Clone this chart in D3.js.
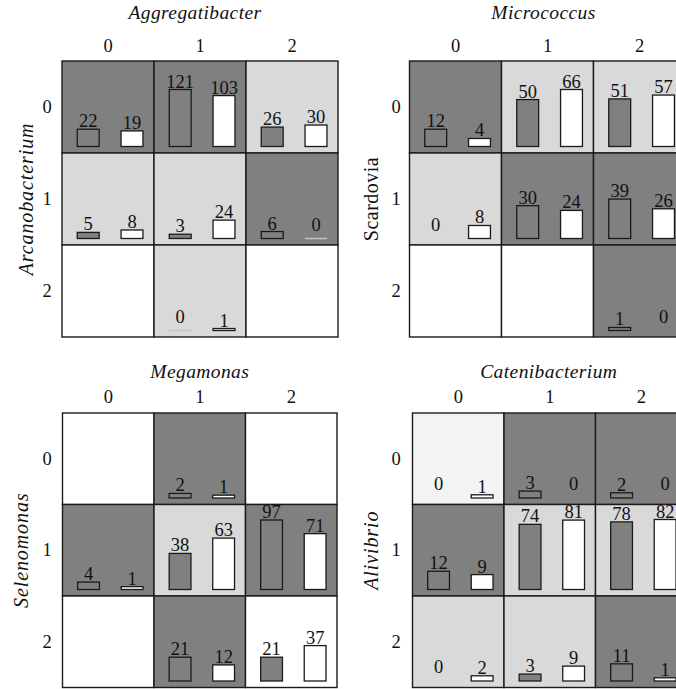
<!DOCTYPE html>
<html>
<head>
<meta charset="utf-8">
<script src="https://cdn.jsdelivr.net/npm/d3@7"></script>
<style>
  html, body { margin: 0; padding: 0; background: #fff; }
  svg { display: block; }
  text { font-family: "Liberation Serif", "DejaVu Serif", serif; fill: #111; }
</style>
</head>
<body>
<svg id="chart" width="676" height="689"></svg>
<script>
// Genus pairs: column genus (top) and row genus (left) for each panel
const colTitles = ["Aggregatibacter", "Micrococcus", "Megamonas", "Catenibacterium"];
const rowTitles = ["Arcanobacterium", "Scardovia", "Selenomonas", "Alivibrio"];
const rowTitleItalic = [true, false, true, true];

// Abundance levels shown along each axis
const levels = ["0", "1", "2"];
const series = ["grey", "white"];

// Counts per cell [row][column]; null = empty cell
const greyCounts = [
  [[22, 121, 26], [5, 3, 6], [null, 0, null]],
  [[12, 50, 51], [0, 30, 39], [null, null, 1]],
  [[null, 2, null], [4, 38, 97], [null, 21, 21]],
  [[0, 3, 2], [12, 74, 78], [0, 3, 11]]
];
const whiteCounts = [
  [[19, 103, 30], [8, 24, 0], [null, 1, null]],
  [[4, 66, 57], [8, 24, 26], [null, null, 0]],
  [[null, 1, null], [1, 63, 71], [null, 12, 37]],
  [[1, 0, 0], [9, 81, 82], [2, 9, 1]]
];
// Cell shading class [row][column]: 0 white, 1 faint, 2 light, 3 dark
const cellShade = [
  [[3, 3, 2], [2, 2, 3], [0, 2, 0]],
  [[3, 2, 2], [2, 3, 3], [0, 0, 3]],
  [[0, 3, 0], [3, 2, 3], [0, 3, 0]],
  [[1, 3, 3], [3, 2, 2], [2, 2, 3]]
];
// Whether a zero count is marked with a faint baseline stroke
const zeroStroke = [true, false, false, false];

// ---- layout ----
const shadeFill = ["#ffffff", "#f2f3f3", "#d9d9d9", "#808080"];
const barFill = { grey: "#808080", white: "#ffffff" };
const layout = [
  { x: 62,    y: 61,  cell: 92,   titleDx: -5, titleY: 19,  tickY: 52,  rowLabelX: 47,  axisTitleX: 26 },
  { x: 409.5, y: 61,  cell: 92,   titleDx: -4, titleY: 19,  tickY: 52,  rowLabelX: 396, axisTitleX: 371 },
  { x: 62.5,  y: 413, cell: 91.5, titleDx: 0,  titleY: 378, tickY: 403, rowLabelX: 47,  axisTitleX: 21 },
  { x: 412.5, y: 413, cell: 91.5, titleDx: -1, titleY: 378, tickY: 403, rowLabelX: 396, axisTitleX: 371 }
];
const maxBarH = [57, 57, 69.5, 70];
const baseInset = 6.5;

const svg = d3.select("#chart");

layout.forEach((L, p) => {
  const g = svg.append("g");
  const size = L.cell * 3;
  const xCol = d3.scaleBand().domain(levels).range([L.x, L.x + size]);
  const yRow = d3.scaleBand().domain(levels).range([L.y, L.y + size]);
  const xSeries = d3.scaleBand().domain(series).range([0, xCol.bandwidth()])
    .paddingInner(0.5).paddingOuter(0.3).align(0.58);

  const allVals = greyCounts[p].flat().concat(whiteCounts[p].flat()).filter(v => v != null);
  const h = d3.scalePow().exponent(0.7).domain([0, d3.max(allVals)]).range([0, maxBarH[p]]);

  // cell backgrounds and grid
  const cells = [];
  levels.forEach((r, ri) => levels.forEach((c, ci) => {
    cells.push({ r, c, ri, ci, shade: cellShade[p][ri][ci],
      grey: greyCounts[p][ri][ci], white: whiteCounts[p][ri][ci] });
  }));

  g.selectAll("rect.cell").data(cells).join("rect")
    .attr("class", "cell")
    .attr("x", d => xCol(d.c)).attr("y", d => yRow(d.r))
    .attr("width", xCol.bandwidth()).attr("height", yRow.bandwidth())
    .attr("fill", d => shadeFill[d.shade])
    .attr("stroke", "#1a1a1a").attr("stroke-width", 1.4);

  // bars
  const bars = [];
  cells.forEach(d => series.forEach(s => {
    const v = d[s];
    if (v == null) return;
    bars.push({ s, v, x: xCol(d.c) + xSeries(s), base: yRow(d.r) + yRow.bandwidth() - baseInset });
  }));

  g.selectAll("rect.bar").data(bars.filter(b => b.v > 0)).join("rect")
    .attr("class", "bar")
    .attr("x", b => b.x).attr("width", xSeries.bandwidth())
    .attr("y", b => b.base - h(b.v)).attr("height", b => h(b.v))
    .attr("fill", b => barFill[b.s])
    .attr("stroke", "#1a1a1a").attr("stroke-width", 1.3);

  if (zeroStroke[p]) {
    g.selectAll("line.zero").data(bars.filter(b => b.v === 0)).join("line")
      .attr("class", "zero")
      .attr("x1", b => b.x).attr("x2", b => b.x + xSeries.bandwidth())
      .attr("y1", b => b.base).attr("y2", b => b.base)
      .attr("stroke", "#c4c4c4").attr("stroke-width", 1.5);
  }

  g.selectAll("text.val").data(bars).join("text")
    .attr("class", "val")
    .attr("x", b => b.x + xSeries.bandwidth() / 2)
    .attr("y", b => b.v > 0 ? b.base - h(b.v) - 2 : b.base - 8)
    .attr("text-anchor", "middle")
    .attr("font-size", 18.5)
    .text(b => b.v);

  // column ticks
  g.selectAll("text.ctick").data(levels).join("text")
    .attr("class", "ctick")
    .attr("x", c => xCol(c) + xCol.bandwidth() / 2)
    .attr("y", L.tickY)
    .attr("text-anchor", "middle").attr("font-size", 18.5)
    .text(c => c);

  // row ticks
  g.selectAll("text.rtick").data(levels).join("text")
    .attr("class", "rtick")
    .attr("x", L.rowLabelX)
    .attr("y", r => yRow(r) + yRow.bandwidth() / 2 + 6)
    .attr("text-anchor", "middle").attr("font-size", 18.5)
    .text(r => r);

  // titles
  g.append("text")
    .attr("x", L.x + size / 2 + L.titleDx).attr("y", L.titleY)
    .attr("text-anchor", "middle").attr("font-size", 19.5)
    .attr("letter-spacing", 0.4)
    .attr("font-style", "italic")
    .text(colTitles[p]);

  const cy = L.y + size / 2;
  g.append("text")
    .attr("transform", `translate(${L.axisTitleX},${cy}) rotate(-90)`)
    .attr("text-anchor", "middle").attr("dy", "0.35em")
    .attr("font-size", 20)
    .attr("letter-spacing", rowTitleItalic[p] ? 0.9 : 0.5)
    .attr("font-style", rowTitleItalic[p] ? "italic" : "normal")
    .text(rowTitles[p]);
});
</script>
</body>
</html>
